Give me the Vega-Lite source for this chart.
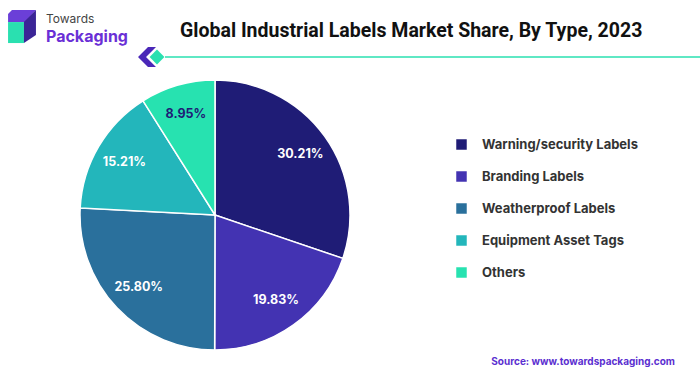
{
  "$schema": "https://vega.github.io/schema/vega-lite/v6.json",
  "width": 270,
  "height": 270,
  "autosize": {"type": "none"},
  "padding": {"left": 80, "top": 80, "right": 350, "bottom": 26},
  "background": "white",
  "title": {
    "text": "Global Industrial Labels Market Share, By Type, 2023",
    "anchor": "start",
    "dx": 172,
    "offset": -31,
    "fontSize": 19.5,
    "font": "Roboto",
    "fontWeight": "bold",
    "color": "#111111"
  },
  "config": {"view": {"stroke": null}},
  "layer": [
    {
      "data": {
        "values": [
          {"type": "Warning/security Labels", "share": 0.3021, "order": 1},
          {"type": "Branding Labels", "share": 0.1983, "order": 2},
          {"type": "Weatherproof Labels", "share": 0.2580, "order": 3},
          {"type": "Equipment Asset Tags", "share": 0.1521, "order": 4},
          {"type": "Others", "share": 0.0895, "order": 5}
        ]
      },
      "layer": [
        {
          "mark": {"type": "arc", "stroke": "white", "strokeWidth": 1.5},
          "encoding": {
            "theta": {"field": "share", "type": "quantitative", "stack": true},
            "order": {"field": "order", "type": "quantitative"},
            "color": {
              "field": "type",
              "type": "nominal",
              "scale": {
                "domain": ["Warning/security Labels", "Branding Labels", "Weatherproof Labels", "Equipment Asset Tags", "Others"],
                "range": ["#1f1c76", "#4333b2", "#2a709c", "#23b6bb", "#27e2b0"]
              },
              "legend": {
                "orient": "none",
                "legendX": 375,
                "legendY": 58,
                "title": null,
                "padding": 0,
                "symbolType": "square",
                "symbolSize": 110,
                "symbolStrokeWidth": 0,
                "labelFontSize": 13,
                "labelFont": "Inter",
                "labelFontWeight": "bold",
                "labelColor": "#333333",
                "rowPadding": 18,
                "labelOffset": 14
              }
            }
          }
        },
        {
          "mark": {"type": "text", "radius": 105, "fontSize": 12.5, "font": "Inter", "fontWeight": "bold"},
          "encoding": {
            "theta": {"field": "share", "type": "quantitative", "stack": true},
            "order": {"field": "order", "type": "quantitative"},
            "text": {"field": "share", "type": "quantitative", "format": ".2%"},
            "color": {"condition": {"test": "datum.type === 'Others'", "value": "#1f1c76"}, "value": "white"}
          }
        }
      ]
    },
    {
      "data": {"values": [{"t": "Source: www.towardspackaging.com"}]},
      "mark": {"type": "text", "align": "right", "baseline": "middle", "fontSize": 10, "font": "Inter", "fontWeight": "bold", "color": "#5b2fd0"},
      "encoding": {"text": {"field": "t"}, "x": {"value": 595}, "y": {"value": 282}}
    },
    {
      "data": {"values": [{"t": "Towards"}]},
      "mark": {"type": "text", "align": "left", "baseline": "middle", "fontSize": 12, "font": "Inter", "color": "#444444"},
      "encoding": {"text": {"field": "t"}, "x": {"value": -34}, "y": {"value": -61}}
    },
    {
      "data": {"values": [{"t": "Packaging"}]},
      "mark": {"type": "text", "align": "left", "baseline": "middle", "fontSize": 16, "font": "Inter", "fontWeight": "bold", "color": "#6a2fd6"},
      "encoding": {"text": {"field": "t"}, "x": {"value": -34}, "y": {"value": -43}}
    },
    {
      "data": {"values": [{"p": "front"}]},
      "mark": {"type": "point", "filled": true, "opacity": 1, "strokeWidth": 0, "shape": "M-0.93,-0.33L0.13,-0.33L0.13,1.07L-0.93,1.07Z", "color": "#2ae0b0", "size": 900},
      "encoding": {"x": {"value": -58}, "y": {"value": -53}}
    },
    {
      "data": {"values": [{"p": "top"}]},
      "mark": {"type": "point", "filled": true, "opacity": 1, "strokeWidth": 0, "shape": "M-0.93,-0.33L-0.93,-0.87L-0.67,-1.13L0.93,-1.13L0.2,-0.33Z", "color": "#6b3fd8", "size": 900},
      "encoding": {"x": {"value": -58}, "y": {"value": -53}}
    },
    {
      "data": {"values": [{"p": "side"}]},
      "mark": {"type": "point", "filled": true, "opacity": 1, "strokeWidth": 0, "shape": "M0.13,-0.33L0.93,-1.13L0.93,0.53L0.13,1.07Z", "color": "#3b2596", "size": 900},
      "encoding": {"x": {"value": -58}, "y": {"value": -53}}
    },
    {
      "data": {"values": [{"p": "line"}]},
      "mark": {"type": "rule", "color": "#2ae0b0", "strokeWidth": 1.5},
      "encoding": {"x": {"value": 85}, "x2": {"value": 620}, "y": {"value": -23}}
    },
    {
      "data": {"values": [{"p": "chev"}]},
      "mark": {"type": "point", "filled": true, "opacity": 1, "strokeWidth": 0, "shape": "M0.1,-1L-0.9,0L0.1,1L0.9,1L-0.1,0L0.9,-1Z", "color": "#4a27b8", "size": 400},
      "encoding": {"x": {"value": 67}, "y": {"value": -23}}
    },
    {
      "data": {"values": [{"p": "diamond"}]},
      "mark": {"type": "point", "filled": true, "opacity": 1, "strokeWidth": 0, "shape": "diamond", "color": "#2ae0b0", "size": 220},
      "encoding": {"x": {"value": 77}, "y": {"value": -23}}
    }
  ]
}
